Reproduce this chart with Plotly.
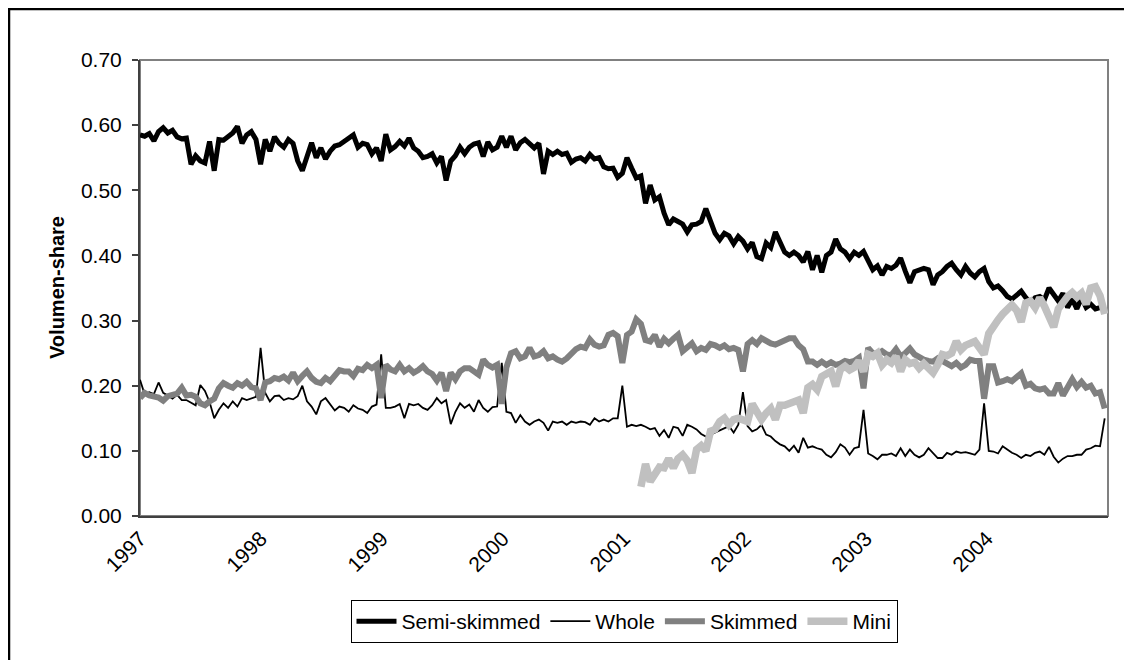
import pandas as pd
import plotly.graph_objects as go

# fortnightly observation dates (category positions on the time axis)
dates = pd.date_range("1997-01-01", periods=209, freq="14D")
mini_start = 108

years = ["1997", "1998", "1999", "2000", "2001", "2002", "2003", "2004"]
y_ticks = [0.0, 0.1, 0.2, 0.3, 0.4, 0.5, 0.6, 0.7]

semi_skimmed = [
    0.585, 0.583, 0.587, 0.576, 0.590, 0.596, 0.588, 0.592, 0.582, 0.579,
    0.580, 0.540, 0.553, 0.545, 0.542, 0.575, 0.530, 0.578, 0.577, 0.583,
    0.588, 0.598, 0.572, 0.585, 0.590, 0.578, 0.540, 0.578, 0.560, 0.582,
    0.572, 0.566, 0.578, 0.572, 0.545, 0.530, 0.553, 0.573, 0.550, 0.565,
    0.548, 0.560, 0.568, 0.570, 0.575, 0.580, 0.585, 0.566, 0.572, 0.570,
    0.556, 0.565, 0.545, 0.586, 0.562, 0.567, 0.575, 0.568, 0.580, 0.565,
    0.560, 0.550, 0.552, 0.556, 0.542, 0.552, 0.515, 0.545, 0.553, 0.566,
    0.556, 0.566, 0.571, 0.573, 0.552, 0.574, 0.562, 0.566, 0.583, 0.566,
    0.583, 0.562, 0.573, 0.578, 0.571, 0.565, 0.572, 0.525, 0.560, 0.555,
    0.560, 0.555, 0.557, 0.543, 0.548, 0.550, 0.545, 0.555, 0.548, 0.550,
    0.536, 0.533, 0.534, 0.520, 0.526, 0.550, 0.534, 0.519, 0.522, 0.480,
    0.508, 0.485, 0.490, 0.465, 0.447, 0.456, 0.452, 0.448, 0.436, 0.447,
    0.448, 0.452, 0.472, 0.455, 0.434, 0.424, 0.434, 0.430, 0.418, 0.429,
    0.422, 0.410, 0.420, 0.398, 0.395, 0.419, 0.412, 0.436, 0.420, 0.405,
    0.400, 0.405, 0.400, 0.390, 0.406, 0.378, 0.400, 0.374, 0.400, 0.405,
    0.425, 0.410, 0.405, 0.395, 0.405, 0.400, 0.406, 0.390, 0.378, 0.384,
    0.370, 0.383, 0.380, 0.385, 0.396, 0.376, 0.358, 0.375, 0.378, 0.380,
    0.378, 0.355, 0.370, 0.375, 0.383, 0.388, 0.378, 0.370, 0.383, 0.373,
    0.367, 0.375, 0.380, 0.360, 0.350, 0.353, 0.346, 0.337, 0.333, 0.340,
    0.345, 0.335, 0.327, 0.335, 0.337, 0.332, 0.350, 0.340, 0.330, 0.342,
    0.320, 0.333, 0.318, 0.335, 0.320, 0.325, 0.318, 0.320, 0.318,
]

whole = [
    0.209, 0.187, 0.190, 0.187, 0.205, 0.189, 0.185, 0.180, 0.186, 0.178,
    0.178, 0.174, 0.170, 0.201, 0.192, 0.175, 0.150, 0.163, 0.173, 0.166,
    0.176, 0.168, 0.181, 0.178, 0.181, 0.183, 0.258, 0.189, 0.176, 0.184,
    0.185, 0.178, 0.181, 0.179, 0.184, 0.200, 0.176, 0.168, 0.156, 0.176,
    0.181, 0.171, 0.162, 0.168, 0.166, 0.160, 0.170, 0.165, 0.163, 0.158,
    0.168, 0.171, 0.248, 0.166, 0.166, 0.168, 0.172, 0.150, 0.172, 0.170,
    0.172, 0.166, 0.163, 0.170, 0.181, 0.173, 0.178, 0.141, 0.160, 0.173,
    0.166, 0.171, 0.160, 0.178, 0.166, 0.160, 0.167, 0.168, 0.235, 0.160,
    0.158, 0.143, 0.155, 0.145, 0.140, 0.145, 0.148, 0.143, 0.131, 0.145,
    0.143, 0.145, 0.140, 0.145, 0.143, 0.145, 0.144, 0.140, 0.150, 0.145,
    0.148, 0.145, 0.150, 0.150, 0.200, 0.137, 0.140, 0.138, 0.140, 0.137,
    0.133, 0.135, 0.123, 0.132, 0.120, 0.137, 0.135, 0.123, 0.140, 0.137,
    0.133, 0.126, 0.122, 0.125, 0.128, 0.132, 0.135, 0.138, 0.128, 0.140,
    0.190, 0.138, 0.130, 0.133, 0.140, 0.125, 0.122, 0.115, 0.110, 0.107,
    0.100, 0.108, 0.097, 0.120, 0.105, 0.107, 0.104, 0.102, 0.094, 0.090,
    0.098, 0.110, 0.105, 0.094, 0.104, 0.106, 0.163, 0.096, 0.092, 0.087,
    0.094, 0.094, 0.096, 0.092, 0.104, 0.092, 0.102, 0.094, 0.090, 0.094,
    0.104, 0.097, 0.089, 0.089, 0.097, 0.094, 0.099, 0.097, 0.098, 0.096,
    0.094, 0.102, 0.173, 0.100, 0.099, 0.096, 0.107, 0.102, 0.097, 0.094,
    0.089, 0.094, 0.092, 0.097, 0.099, 0.094, 0.106, 0.091, 0.082, 0.088,
    0.092, 0.092, 0.094, 0.094, 0.102, 0.104, 0.108, 0.107, 0.150,
]

skimmed = [
    0.181, 0.189, 0.185, 0.184, 0.182, 0.177, 0.184, 0.186, 0.188, 0.197,
    0.185, 0.186, 0.183, 0.173, 0.170, 0.176, 0.180, 0.196, 0.204, 0.200,
    0.197, 0.204, 0.200, 0.206, 0.198, 0.196, 0.178, 0.205, 0.207, 0.212,
    0.210, 0.214, 0.208, 0.220, 0.207, 0.215, 0.222, 0.212, 0.206, 0.204,
    0.212, 0.207, 0.217, 0.224, 0.222, 0.222, 0.215, 0.226, 0.224, 0.232,
    0.227, 0.232, 0.181, 0.232, 0.225, 0.222, 0.232, 0.222, 0.227, 0.220,
    0.224, 0.230, 0.222, 0.218, 0.208, 0.220, 0.192, 0.220, 0.210, 0.222,
    0.227, 0.227, 0.222, 0.217, 0.240, 0.232, 0.228, 0.232, 0.172, 0.228,
    0.250, 0.253, 0.242, 0.245, 0.258, 0.245, 0.247, 0.253, 0.242, 0.245,
    0.240, 0.237, 0.242, 0.250, 0.256, 0.260, 0.258, 0.271, 0.263, 0.260,
    0.262, 0.278, 0.281, 0.276, 0.235, 0.278, 0.283, 0.302, 0.295, 0.270,
    0.268, 0.278, 0.260, 0.272, 0.265, 0.272, 0.278, 0.253, 0.258, 0.265,
    0.253, 0.258, 0.255, 0.264, 0.262, 0.258, 0.262, 0.256, 0.258, 0.255,
    0.222, 0.264, 0.270, 0.264, 0.273, 0.268, 0.265, 0.263, 0.267, 0.270,
    0.273, 0.273, 0.262, 0.256, 0.237, 0.237, 0.232, 0.237, 0.232, 0.236,
    0.232, 0.234, 0.238, 0.236, 0.238, 0.243, 0.196, 0.258, 0.250, 0.248,
    0.253, 0.248, 0.247, 0.256, 0.245, 0.250, 0.257, 0.248, 0.243, 0.240,
    0.238, 0.237, 0.242, 0.238, 0.235, 0.230, 0.235, 0.228, 0.232, 0.240,
    0.238, 0.238, 0.180, 0.230, 0.230, 0.205, 0.207, 0.210, 0.207, 0.212,
    0.219, 0.200, 0.203, 0.196, 0.194, 0.196, 0.188, 0.188, 0.204, 0.185,
    0.200, 0.210, 0.198, 0.206, 0.197, 0.200, 0.188, 0.190, 0.165,
]

mini = [
    0.045, 0.080, 0.053, 0.062, 0.075, 0.074, 0.088, 0.074, 0.088, 0.094,
    0.085, 0.066, 0.102, 0.108, 0.100, 0.130, 0.133, 0.145, 0.150, 0.140,
    0.148, 0.150, 0.147, 0.145, 0.172, 0.158, 0.148, 0.158, 0.165, 0.148,
    0.170, 0.170, 0.173, 0.175, 0.178, 0.158, 0.197, 0.202, 0.194, 0.214,
    0.219, 0.222, 0.199, 0.225, 0.230, 0.224, 0.228, 0.238, 0.222, 0.248,
    0.245, 0.250, 0.232, 0.240, 0.235, 0.245, 0.222, 0.240, 0.234, 0.236,
    0.227, 0.234, 0.227, 0.220, 0.232, 0.248, 0.246, 0.250, 0.268, 0.255,
    0.262, 0.264, 0.268, 0.258, 0.248, 0.280, 0.292, 0.301, 0.310, 0.318,
    0.324, 0.316, 0.298, 0.327, 0.330, 0.320, 0.335, 0.322, 0.306, 0.290,
    0.318, 0.330, 0.337, 0.343, 0.336, 0.342, 0.325, 0.350, 0.352, 0.338,
    0.310,
]

FONT = "Liberation Sans, Arial, sans-serif"
W, H = 1132, 660
L, R, T, B = 132, 32, 52, 152
pw, ph = W - L - R, H - T - B

fig = go.Figure()
fig.add_trace(go.Scatter(x=dates, y=semi_skimmed, name="Semi-skimmed", mode="lines",
                         line=dict(color="#000000", width=5)))
fig.add_trace(go.Scatter(x=dates, y=whole, name="Whole", mode="lines",
                         line=dict(color="#000000", width=1.8)))
fig.add_trace(go.Scatter(x=dates, y=skimmed, name="Skimmed", mode="lines",
                         line=dict(color="#808080", width=6)))
fig.add_trace(go.Scatter(x=dates[mini_start:], y=mini, name="Mini", mode="lines",
                         line=dict(color="#C0C0C0", width=7.5)))

def px_x(q):
    return (q - L) / pw

def px_y(p):
    return (H - B - p) / ph

shapes = [
    # plot-area frame (grey)
    dict(type="rect", xref="paper", yref="paper", x0=0, x1=1, y0=0, y1=1,
         line=dict(color="#808080", width=2), layer="below"),
    # outer chart border (black)
    dict(type="rect", xref="paper", yref="paper",
         x0=px_x(1), x1=px_x(W - 1.5), y0=px_y(H - 2), y1=px_y(1),
         line=dict(color="#000000", width=2.5), layer="above"),
]

fig.update_layout(
    width=W, height=H,
    margin=dict(l=L, r=R, t=T, b=B, autoexpand=False),
    paper_bgcolor="white", plot_bgcolor="white",
    font=dict(family=FONT, size=21, color="black"),
    showlegend=True,
    legend=dict(orientation="h", x=0.5, xanchor="center", y=px_y(592), yanchor="top",
                bordercolor="black", borderwidth=1, bgcolor="white",
                font=dict(family=FONT, size=21, color="black"),
                itemwidth=40, tracegroupgap=0),
    shapes=shapes,
    annotations=[dict(text="<b>Volumen-share</b>", textangle=-90, showarrow=False,
                      xref="paper", yref="paper", x=px_x(49), y=0.5,
                      xanchor="center", yanchor="middle",
                      font=dict(family=FONT, size=20, color="black"))],
)

fig.update_xaxes(
    type="date", range=["1997-01-01", "2005-01-01"],
    tickmode="array", tickvals=[f"{y}-01-01" for y in years], ticktext=years,
    tickangle=-45, ticks="", showgrid=False, zeroline=False,
    showline=True, linecolor="#404040", linewidth=2,
    tickfont=dict(family=FONT, size=21, color="black"),
)
fig.update_yaxes(
    range=[0, 0.7], tickmode="array", tickvals=y_ticks,
    ticktext=[f"{v:.2f}" for v in y_ticks],
    ticks="outside", ticklen=6, tickwidth=1.5, tickcolor="#404040",
    ticklabelstandoff=6,
    showgrid=False, zeroline=False,
    showline=True, linecolor="#404040", linewidth=2,
    tickfont=dict(family=FONT, size=21, color="black"),
)

fig.write_html("out.html")
